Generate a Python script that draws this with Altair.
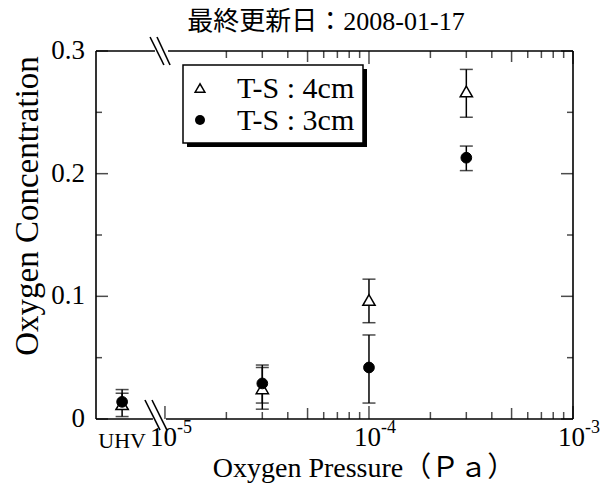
import altair as alt
import pandas as pd
import numpy as np

# ---------------- data ----------------
pressure_labels = ["UHV", "3e-5", "1e-4", "3e-4"]
pressure_pa = [None, 3e-5, 1e-4, 3e-4]
UHV_POS = -5.21          # place of the UHV column left of the axis break (log10 units)
x_pos = [UHV_POS] + [float(np.log10(p)) for p in pressure_pa[1:]]

ts4_value = [0.012, 0.025, 0.097, 0.267]
ts4_low   = [0.002, 0.008, 0.0785, 0.246]
ts4_high  = [0.024, 0.042, 0.114, 0.285]

ts3_value = [0.014, 0.029, 0.042, 0.213]
ts3_low   = [0.008, 0.013, 0.013, 0.2025]
ts3_high  = [0.021, 0.044, 0.0685, 0.2225]

series_names = ["T-S : 4cm", "T-S : 3cm"]
y_tick_values = [0.0, 0.1, 0.2, 0.3]
y_tick_labels = ["0", "0.1", "0.2", "0.3"]
y_minor_values = [0.05, 0.15, 0.25]
x_decades = [-5, -4, -3]
x_decade_sup = ["-5", "-4", "-3"]
x_minor_mults = [2, 3, 4, 6, 7, 8, 9]
x_five_mult = [5]

title_text = "最終更新日：2008-01-17"
x_title = "Oxygen Pressure（Ｐａ）"
y_title = "Oxygen Concentration"

X_MIN, X_MAX = -5.338, -3.0
Y_MIN, Y_MAX = 0.0, 0.3
# frame pieces and the two axis-break marks (x in log10 units, y in data units)
frame_segments = [
    (X_MIN, 0.0, X_MIN, 0.3),
    (X_MAX, 0.0, X_MAX, 0.3),
    (X_MIN, 0.0, -5.059, 0.0),
    (-4.995, 0.0, X_MAX, 0.0),
    (X_MIN, 0.3, -5.049, 0.3),
    (-4.985, 0.3, X_MAX, 0.3),
    (-5.098, 0.0155, -5.024, -0.0090),
    (-5.0635, 0.0155, -4.990, -0.0090),
    (-5.073, 0.3114, -5.005, 0.2886),
    (-5.039, 0.3114, -4.975, 0.2886),
]

W, H = 477, 368
SERIF = "Liberation Serif"
CJK = "'Liberation Serif', 'Noto Sans CJK JP'"

xscale = alt.Scale(domain=[X_MIN, X_MAX], nice=False, zero=False)
yscale = alt.Scale(domain=[Y_MIN, Y_MAX], nice=False, zero=False)


def X(field="x"):
    return alt.X(f"{field}:Q", scale=xscale, axis=None)


def Y(field="y"):
    return alt.Y(f"{field}:Q", scale=yscale, axis=None)


# ---------------- tables ----------------
pts = pd.DataFrame({
    "x": x_pos * 2,
    "y": ts4_value + ts3_value,
    "lo": ts4_low + ts3_low,
    "hi": ts4_high + ts3_high,
    "series": [series_names[0]] * 4 + [series_names[1]] * 4,
})
ts4 = pts[pts.series == series_names[0]]
ts3 = pts[pts.series == series_names[1]]

frame = pd.DataFrame(frame_segments, columns=["x", "y", "x2", "y2"])

major_x = pd.DataFrame({"x": [float(d) for d in x_decades]})
five_x = pd.DataFrame({"x": [d + float(np.log10(m)) for d in x_decades[:-1] for m in x_five_mult]})
minor_x = pd.DataFrame({"x": [d + float(np.log10(m)) for d in x_decades[:-1] for m in x_minor_mults]})
major_x_top = pd.DataFrame({"x": [float(d) for d in x_decades[1:]]})

major_y = pd.DataFrame({"y": y_tick_values})
minor_y = pd.DataFrame({"y": y_minor_values})

xlab = pd.DataFrame({"x": [float(d) for d in x_decades], "sup": x_decade_sup})
ylab = pd.DataFrame({"y": y_tick_values, "label": y_tick_labels})
uhv = pd.DataFrame({"x": [UHV_POS], "label": [pressure_labels[0]]})

BLACK = "#000000"
layers = []

# frame and axis breaks
layers.append(alt.Chart(frame).mark_rule(color=BLACK, strokeWidth=1.6).encode(
    x=X("x"), y=Y("y"), x2="x2:Q", y2="y2:Q"))

# x ticks bottom / top
for df, L in [(major_x, 13), (five_x, 11), (minor_x, 7)]:
    layers.append(alt.Chart(df).mark_tick(orient="vertical", size=L, thickness=1.5,
                                          color=BLACK, yOffset=-L / 2).encode(
        x=X("x"), y=alt.value(H)))
for df, L in [(major_x_top, 13), (five_x, 11), (minor_x, 7)]:
    layers.append(alt.Chart(df).mark_tick(orient="vertical", size=L, thickness=1.5,
                                          color=BLACK, yOffset=L / 2).encode(
        x=X("x"), y=alt.value(0)))
# y ticks left / right
for df, L in [(major_y, 12), (minor_y, 6)]:
    layers.append(alt.Chart(df).mark_tick(orient="horizontal", size=L, thickness=1.5,
                                          color=BLACK, xOffset=L / 2).encode(
        y=Y("y"), x=alt.value(0)))
    layers.append(alt.Chart(df).mark_tick(orient="horizontal", size=L, thickness=1.5,
                                          color=BLACK, xOffset=-L / 2).encode(
        y=Y("y"), x=alt.value(W)))

# tick labels
layers.append(alt.Chart(xlab).mark_text(text="10", font=SERIF, fontSize=27, align="right",
                                        baseline="alphabetic", dx=12, dy=27, color=BLACK).encode(
    x=X("x"), y=alt.value(H)))
layers.append(alt.Chart(xlab).mark_text(font=SERIF, fontSize=18, align="left",
                                        baseline="alphabetic", dx=12, dy=14, color=BLACK).encode(
    x=X("x"), y=alt.value(H), text="sup:N"))
layers.append(alt.Chart(uhv).mark_text(font=SERIF, fontSize=22, align="center",
                                       baseline="alphabetic", dy=29, color=BLACK).encode(
    x=X("x"), y=alt.value(H), text="label:N"))
layers.append(alt.Chart(ylab).mark_text(font=SERIF, fontSize=27, align="right",
                                        baseline="middle", dx=-11, color=BLACK).encode(
    y=Y("y"), x=alt.value(0), text="label:N"))

# error bars
for df in (ts4, ts3):
    layers.append(alt.Chart(df).mark_rule(color=BLACK, strokeWidth=1.5).encode(
        x=X("x"), y=Y("lo"), y2="hi:Q"))
    for f in ("lo", "hi"):
        layers.append(alt.Chart(df).mark_tick(orient="horizontal", size=13, thickness=1.5,
                                              color=BLACK).encode(x=X("x"), y=Y(f)))

# points
layers.append(alt.Chart(ts4).mark_point(shape="triangle-up", size=150, filled=True,
                                        fill="white", stroke=BLACK, strokeWidth=1.5,
                                        opacity=1).encode(x=X("x"), y=Y("y")))
layers.append(alt.Chart(ts3).mark_point(shape="circle", size=115, filled=True,
                                        fill=BLACK, stroke=BLACK, strokeWidth=1,
                                        opacity=1).encode(x=X("x"), y=Y("y")))

# legend box with shadow
one = pd.DataFrame({"k": [0]})
layers.append(alt.Chart(one).mark_rect(color=BLACK).encode(
    x=alt.value(91), x2=alt.value(271), y=alt.value(18), y2=alt.value(96)))
layers.append(alt.Chart(one).mark_rect(fill="white", stroke=BLACK, strokeWidth=1.5).encode(
    x=alt.value(87), x2=alt.value(267), y=alt.value(14), y2=alt.value(92)))
layers.append(alt.Chart(one).mark_point(
    shape="triangle-up", size=95, filled=True, fill="white", stroke=BLACK,
    strokeWidth=1.5, opacity=1).encode(x=alt.value(104), y=alt.value(37)))
layers.append(alt.Chart(one).mark_point(
    shape="circle", size=100, filled=True, fill=BLACK, opacity=1).encode(
    x=alt.value(104), y=alt.value(69)))
for i, name in enumerate(series_names):
    layers.append(alt.Chart(pd.DataFrame({"label": [name]})).mark_text(
        font=SERIF, fontSize=30, align="left", baseline="middle", color=BLACK).encode(
        x=alt.value(141), y=alt.value([38, 70][i]), text="label:N"))

# titles
layers.append(alt.Chart(pd.DataFrame({"t": [title_text]})).mark_text(
    font=CJK, fontSize=26, align="center", baseline="middle",
    color=BLACK).encode(x=alt.value(230), y=alt.value(-29), text="t:N"))
layers.append(alt.Chart(pd.DataFrame({"t": [x_title]})).mark_text(
    font=CJK, fontSize=28, align="center",
    baseline="alphabetic", color=BLACK).encode(x=alt.value(268), y=alt.value(H + 58), text="t:N"))
layers.append(alt.Chart(pd.DataFrame({"t": [y_title]})).mark_text(
    font=SERIF, fontSize=33, align="center", baseline="middle", angle=270,
    color=BLACK).encode(x=alt.value(-68), y=alt.value(155), text="t:N"))

chart = alt.layer(*layers).properties(
    width=W, height=H,
    autosize=alt.AutoSizeParams(type="none"),
    padding={"left": 88, "top": 43, "right": 35, "bottom": 64},
    background="white",
).configure_view(stroke=None)

chart.save("out.html", embed_options={"renderer": "svg", "actions": False})
